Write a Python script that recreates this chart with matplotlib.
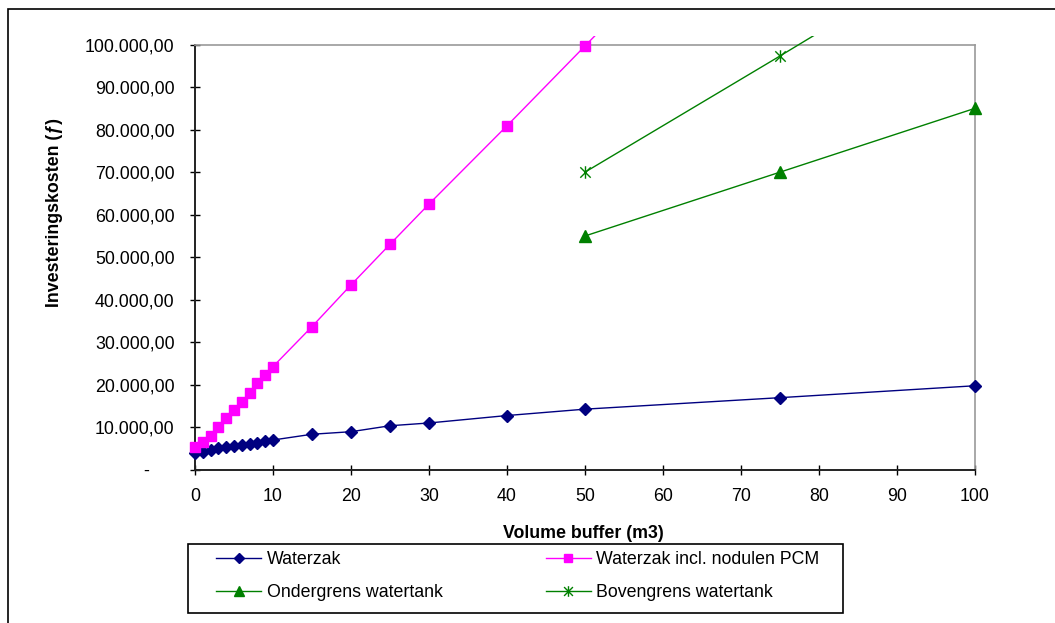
import matplotlib.pyplot as plt
from matplotlib.patches import Rectangle
from matplotlib.path import Path
from matplotlib.ticker import FuncFormatter

plt.rcParams['font.family'] = ['Liberation Sans', 'DejaVu Sans']

# data
volume_waterzak = [0, 1, 2, 3, 4, 5, 6, 7, 8, 9, 10, 15, 20, 25, 30, 40, 50, 75, 100]
cost_waterzak = [4000, 4300, 4700, 5100, 5500, 5700, 5900, 6100, 6300, 6800, 7050,
                 8400, 9000, 10400, 11050, 12800, 14300, 17000, 19800]

volume_pcm = [0, 1, 2, 3, 4, 5, 6, 7, 8, 9, 10, 15, 20, 25, 30, 40, 50, 75, 100]
cost_pcm = [5480, 6650, 8070, 10050, 12150, 14100, 16050, 18200, 20400, 22300, 24300,
            33700, 43500, 53050, 62500, 80900, 99650, 146800, 193900]

volume_tank = [50, 75, 100]
cost_tank_low = [55000, 70000, 85000]
cost_tank_high = [70000, 97300, 125000]

labels = ["Waterzak", "Waterzak incl. nodulen PCM",
          "Ondergrens watertank", "Bovengrens watertank"]

W, H = 1055, 623
fig = plt.figure(figsize=(W / 100, H / 100), dpi=100)

# outer chart frame (only left and top edge visible)
fig.add_artist(Rectangle((8 / W, -0.05), 1.2, 1 - 9 / H + 0.05, transform=fig.transFigure,
                         fill=False, edgecolor="black", linewidth=1.2))

ax = fig.add_axes([195 / W, 1 - 470 / H, 780 / W, 425.5 / H])

# Excel-like asterisk marker: an X plus a vertical bar
star = Path([(-1, -1), (1, 1), (-1, 1), (1, -1), (0, -1.2), (0, 1.2)],
            [Path.MOVETO, Path.LINETO, Path.MOVETO, Path.LINETO, Path.MOVETO, Path.LINETO])

l1, = ax.plot(volume_waterzak, cost_waterzak, color="#000080", marker="D", markersize=6,
              linewidth=1, label=labels[0])
l2, = ax.plot(volume_pcm, cost_pcm, color="#FF00FF", marker="s", markersize=7.5,
              linewidth=1, label=labels[1])
l3, = ax.plot(volume_tank, cost_tank_low, color="#008000", marker="^", markersize=9,
              linewidth=1, label=labels[2])
l4, = ax.plot(volume_tank, cost_tank_high, color="#008000", marker=star, markersize=9,
              markeredgewidth=1, linewidth=1, label=labels[3])

clip = Rectangle((-0.03, -0.03), 1.06, 1.05, transform=ax.transAxes)
for line in (l1, l2, l3, l4):
    line.set_clip_path(clip)
    line.set_zorder(3)

ax.set_xlim(0, 100)
ax.set_ylim(0, 100000)
ax.set_xticks(range(0, 101, 10))
ax.set_yticks(range(0, 100001, 10000))


def dutch(v, pos):
    if v == 0:
        return "-     "
    return f"{v:,.2f}".replace(",", "X").replace(".", ",").replace("X", ".")


ax.yaxis.set_major_formatter(FuncFormatter(dutch))
ax.tick_params(axis="both", direction="inout", length=7.5, width=1, labelsize=12.8, colors="black")
ax.tick_params(axis="y", pad=11)
ax.tick_params(axis="x", pad=9)

for side in ("left", "bottom"):
    ax.spines[side].set_color("#222222")
    ax.spines[side].set_linewidth(1.4)
for side in ("top", "right"):
    ax.spines[side].set_color("#999999")
    ax.spines[side].set_linewidth(1.2)

ax.set_xlabel("Volume buffer (m3)", fontsize=12.8, fontweight="bold", va="center")
ax.xaxis.set_label_coords(0.498, -0.150)
ax.set_ylabel("Investeringskosten (ƒ)", fontsize=12.8, fontweight="bold", va="center")
ax.yaxis.set_label_coords(-0.1795, 0.605)

# legend box drawn separately, entries placed inside
fig.add_artist(Rectangle((188 / W, 1 - 612.7 / H), 655 / W, 68.7 / H, transform=fig.transFigure,
                         fill=False, edgecolor="black", linewidth=1.2))
fig.legend([l1, l3, l2, l4], [labels[0], labels[2], labels[1], labels[3]],
           loc="upper left", bbox_to_anchor=(216 / W, 1 - 551 / H), ncol=2,
           frameon=False, borderpad=0, borderaxespad=0, fontsize=12.8,
           handlelength=2.55, handletextpad=0.3, columnspacing=5.8, labelspacing=0.9,
           markerscale=0.85)

fig.savefig("out.png", dpi=100)
